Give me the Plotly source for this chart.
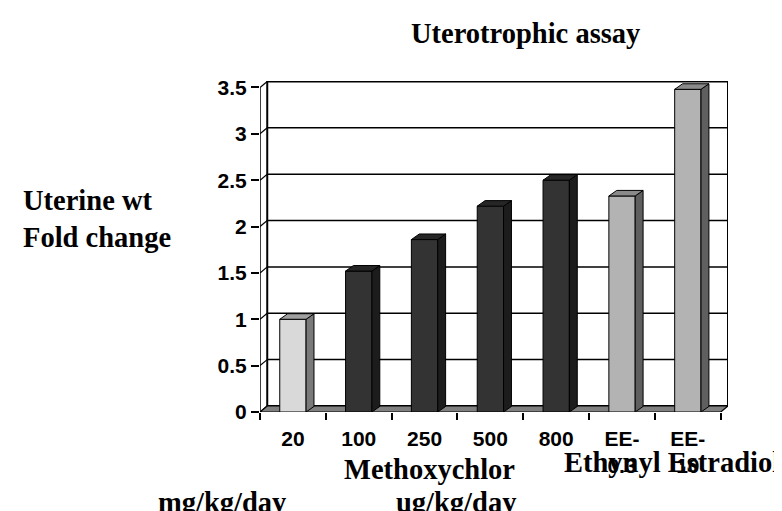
import plotly.graph_objects as go

# ---------------- data ----------------
categories = ["20", "100", "250", "500", "800", "EE-<br>0.3", "EE-<br>10"]
values = [1.0, 1.52, 1.86, 2.22, 2.5, 2.33, 3.48]
groups = ["control", "mxc", "mxc", "mxc", "mxc", "ee", "ee"]
y_ticks = [0, 0.5, 1, 1.5, 2, 2.5, 3, 3.5]
y_tick_text = ["0", "0.5", "1", "1.5", "2", "2.5", "3", "3.5"]

title_text = "Uterotrophic assay"
ylabel_text = "Uterine wt<br>Fold change"
group_labels = ["Methoxychlor", "Ethynyl Estradiol"]
unit_labels = ["mg/kg/day", "ug/kg/day"]

# ---------------- style ----------------
front_col = {"control": "#D9D9D9", "mxc": "#333333", "ee": "#B3B3B3"}
side_col = {"control": "#7A7A7A", "mxc": "#1C1C1C", "ee": "#5F5F5F"}
top_col = {"control": "#A0A0A0", "mxc": "#262626", "ee": "#8A8A8A"}

W, H = 782, 511
ML, MR, MT, MB = 252, 62, 73, 107
PW, PH = W - ML - MR, H - MT - MB

n = len(values)
dxw = 0.11      # wall depth (category units)
dyw = 0.065     # wall depth (value units)
dxb = 0.12      # bar depth
dyb = 0.06
bw = 0.4
xmin, xmax = -0.5, n - 0.5 + dxw
ymin, ymax = 0, 3.57
ytop = y_ticks[-1]

SERIF = "Liberation Serif, Times New Roman, serif"
SANS = "Liberation Sans, Arial, sans-serif"
SERIF_SIZE = 28.5


def px(X):
    return (X - ML) / PW


def py(Y):
    return (H - MB - Y) / PH


def bold(s):
    return "<b>" + s.replace("<br>", "</b><br><b>") + "</b>"


xs = list(range(n))
fig = go.Figure()

# front faces
fig.add_trace(go.Bar(
    x=xs, y=values, width=bw,
    marker=dict(color=[front_col[g] for g in groups],
                line=dict(color="black", width=1)),
    hoverinfo="skip", showlegend=False,
))

# side and top faces
for i, (v, g) in enumerate(zip(values, groups)):
    xr = i + bw / 2
    xl = i - bw / 2
    fig.add_trace(go.Scatter(
        x=[xr, xr, xr + dxb, xr + dxb, xr],
        y=[0, v, v + dyb, dyb, 0],
        mode="lines", fill="toself", fillcolor=side_col[g],
        line=dict(color="black", width=1), hoverinfo="skip", showlegend=False,
    ))
    fig.add_trace(go.Scatter(
        x=[xl, xr, xr + dxb, xl + dxb, xl],
        y=[v, v, v + dyb, v + dyb, v],
        mode="lines", fill="toself", fillcolor=top_col[g],
        line=dict(color="black", width=1), hoverinfo="skip", showlegend=False,
    ))

shapes = []
# back wall
shapes.append(dict(type="rect", xref="x", yref="y",
                   x0=xmin + dxw, x1=n - 0.5 + dxw, y0=dyw, y1=ytop + dyw,
                   line=dict(color="black", width=2), fillcolor="white", layer="below"))
# gridlines on back wall
for v in y_ticks[1:-1]:
    shapes.append(dict(type="line", xref="x", yref="y",
                       x0=xmin + dxw, x1=n - 0.5 + dxw, y0=v + dyw, y1=v + dyw,
                       line=dict(color="black", width=1.5), layer="below"))
# left wall edges
for v in y_ticks:
    shapes.append(dict(type="line", xref="x", yref="y",
                       x0=xmin, x1=xmin + dxw, y0=v, y1=v + dyw,
                       line=dict(color="black", width=1.2), layer="below"))
shapes.append(dict(type="line", xref="x", yref="y",
                   x0=xmin, x1=xmin, y0=0, y1=ytop,
                   line=dict(color="black", width=1.5), layer="below"))
# floor
shapes.append(dict(type="path", xref="x", yref="y",
                   path=f"M {xmin},0 L {n-0.5},0 L {n-0.5+dxw},{dyw} L {xmin+dxw},{dyw} Z",
                   fillcolor="#808080", line=dict(color="black", width=1.2), layer="below"))


def ann(text, X, Y, xanchor="center", align="center"):
    return dict(text=bold(text), x=px(X), y=py(Y), xref="paper", yref="paper",
                xanchor=xanchor, yanchor="middle", align=align, showarrow=False,
                font=dict(family=SERIF, size=SERIF_SIZE, color="black"))


annotations = [
    ann(title_text, 517, 26),
    ann(ylabel_text, 13, 211, xanchor="left", align="left"),
    ann(group_labels[0], 421, 461),
    ann(group_labels[1], 664, 454),
    ann(unit_labels[0], 214, 494),
    ann(unit_labels[1], 448, 494),
]

fig.update_layout(
    width=W, height=H,
    margin=dict(l=ML, r=MR, t=MT, b=MB, pad=0),
    paper_bgcolor="white", plot_bgcolor="white",
    showlegend=False,
    shapes=shapes,
    annotations=annotations,
    xaxis=dict(
        range=[xmin, xmax], tickmode="array", tickvals=xs,
        ticktext=[bold(c) for c in categories],
        ticks="", showgrid=False, zeroline=False, showline=False,
        tickfont=dict(family=SANS, size=21, color="black"),
        ticklabelstandoff=12,
        minor=dict(tickmode="array", tickvals=[i - 0.5 for i in range(n + 1)],
                   ticks="outside", ticklen=7, tickwidth=1.5, tickcolor="black",
                   showgrid=False),
        automargin=False, fixedrange=True,
    ),
    yaxis=dict(
        range=[ymin, ymax], tickmode="array", tickvals=y_ticks,
        ticktext=[bold(t) for t in y_tick_text],
        ticks="outside", ticklen=8, tickwidth=1.5, tickcolor="black",
        showgrid=False, zeroline=False, showline=False,
        tickfont=dict(family=SANS, size=21, color="black"),
        automargin=False, fixedrange=True,
    ),
)

fig.write_html("out.html")
